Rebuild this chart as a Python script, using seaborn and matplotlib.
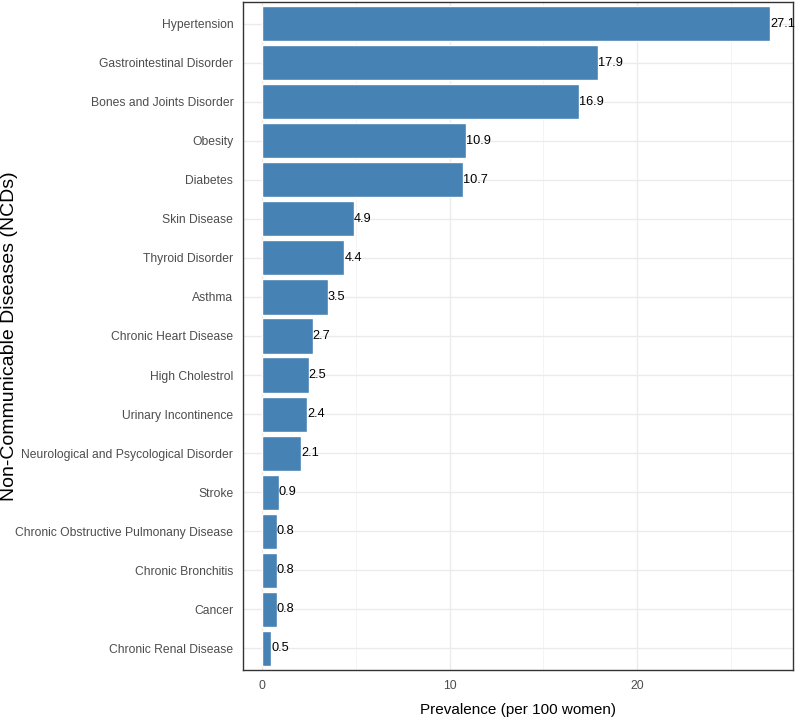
import seaborn as sns
import matplotlib.pyplot as plt
import pandas as pd
from matplotlib.ticker import MultipleLocator

diseases = [
    'Hypertension', 'Gastrointestinal Disorder', 'Bones and Joints Disorder',
    'Obesity', 'Diabetes', 'Skin Disease', 'Thyroid Disorder', 'Asthma',
    'Chronic Heart Disease', 'High Cholestrol', 'Urinary Incontinence',
    'Neurological and Psycological Disorder', 'Stroke',
    'Chronic Obstructive Pulmonany Disease', 'Chronic Bronchitis', 'Cancer',
    'Chronic Renal Disease',
]
prevalence = [27.1, 17.9, 16.9, 10.9, 10.7, 4.9, 4.4, 3.5, 2.7, 2.5, 2.4, 2.1,
              0.9, 0.8, 0.8, 0.8, 0.5]

df = pd.DataFrame({'disease': diseases, 'prevalence': prevalence})

sns.set_style('white')
plt.rcParams['font.family'] = ['Liberation Sans', 'DejaVu Sans']

fig = plt.figure(figsize=(7.97, 7.21), dpi=100)
ax = fig.add_axes([0.305, 0.071, 0.69, 0.926])

sns.barplot(data=df, x='prevalence', y='disease', color='#4682B4',
            width=0.9, saturation=1, ax=ax, zorder=3)

# value labels at the bar ends
for i, v in enumerate(prevalence):
    ax.text(v, i, f'{v:.1f}', va='center', ha='left', fontsize=9.2,
            color='black', zorder=4)

ax.set_xlim(-1.0, 28.3)
ax.set_ylim(16.55, -0.55)
ax.xaxis.set_major_locator(MultipleLocator(10))
ax.xaxis.set_minor_locator(MultipleLocator(5))
ax.grid(True, which='major', color='#EBEBEB', linewidth=1.0, zorder=0)
ax.grid(True, which='minor', axis='x', color='#F3F3F3', linewidth=0.6, zorder=0)
ax.set_axisbelow(True)

for s in ax.spines.values():
    s.set_color('#333333')
    s.set_linewidth(1.0)

ax.tick_params(axis='both', which='major', length=3.5, width=1.0,
               color='#333333', labelcolor='#4D4D4D', labelsize=8.7,
               direction='out')
ax.tick_params(axis='x', which='minor', length=0)

ax.set_xlabel('Prevalence (per 100 women)', fontsize=11, color='black',
              labelpad=8)
ax.set_ylabel('Non-Communicable Diseases (NCDs)', fontsize=14,
              color='black')
ax.yaxis.set_label_coords(-0.41, 0.5)

plt.savefig('out.png', dpi=100)
plt.close()
